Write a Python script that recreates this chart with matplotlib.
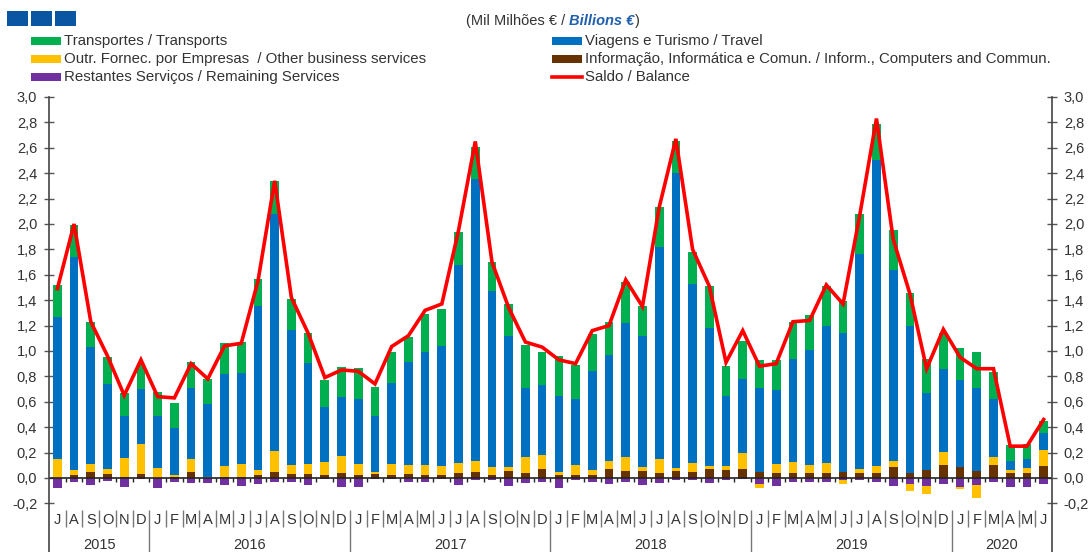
import numpy as np
import matplotlib
matplotlib.use('Agg')
import matplotlib.pyplot as plt
from matplotlib.patches import Rectangle
from matplotlib.lines import Line2D

matplotlib.rcParams.update({
    'font.family': ['Liberation Sans', 'DejaVu Sans'],
    'font.size': 10,
    'text.color': '#333333',
    'xtick.color': '#333333',
    'ytick.color': '#333333',
    'figure.facecolor': 'white',
})

month_labels = list('JASOND') + list('JFMAMJJASOND') * 4 + list('JFMAMJ')
years = ['2015', '2016', '2017', '2018', '2019', '2020']
year_months = [6, 12, 12, 12, 12, 6]

info = [0.0, .02, .045, .03, .01, .03,
        0, .01, .045, 0, .01, .005, .02, .045, .03, .03, .02, .035,
        .02, .03, .02, .03, .02, .02, .035, .045, .02, .055, .04, .07,
        .025, .02, .025, .07, .055, .055, .035, .055, .045, .07, .06, .07,
        .045, .035, .04, .04, .04, .045, .035, .035, .085, .035, .06, .10,
        .087, .055, .10, .04, .04, .09]
other = [.145, .04, .065, .04, .145, .235,
         .075, .01, .10, .005, .085, .105, .04, .17, .07, .08, .105, .135,
         .09, .015, .09, .07, .08, .07, .085, .09, .065, .03, .125, .11,
         .02, .08, .035, .065, .11, .03, .11, .025, .075, .02, .03, .13,
         -.03, .075, .085, .06, .08, -.025, .035, .055, .045, -.055, -.065, .105,
         -.02, -.10, .065, .02, .035, .13]
travel = [1.125, 1.68, .92, .67, .335, .435,
          .415, .37, .56, .575, .72, .72, 1.295, 1.865, 1.065, .795, .43, .47,
          .51, .445, .635, .81, .89, .95, 1.56, 2.22, 1.385, 1.035, .545, .55,
          .60, .52, .78, .835, 1.055, 1.035, 1.675, 2.325, 1.41, 1.09, .555, .58,
          .66, .58, .81, .905, 1.08, 1.095, 1.695, 2.41, 1.51, 1.165, .61, .65,
          .683, .65, .455, .075, .075, .13]
transport = [.25, .25, .20, .21, .18, .20,
             .185, .20, .205, .20, .25, .24, .215, .26, .245, .235, .215, .235,
             .245, .225, .25, .20, .30, .29, .26, .255, .23, .25, .34, .26,
             .315, .27, .29, .26, .32, .23, .31, .245, .25, .33, .235, .30,
             .225, .24, .29, .275, .31, .25, .315, .285, .31, .26, .265, .285,
             .25, .285, .215, .125, .12, .10]
remaining = [-.08, -.03, -.055, -.025, -.075, -.005,
             -.08, -.03, -.04, -.04, -.055, -.06, -.045, -.03, -.03, -.055, -.01, -.075,
             -.075, -.005, -.005, -.03, -.03, -.005, -.055, -.015, -.02, -.065, -.04, -.035,
             -.08, -.02, -.03, -.05, -.035, -.055, -.04, -.02, -.015, -.04, -.02, -.01,
             -.05, -.06, -.03, -.035, -.03, -.02, -.02, -.035, -.065, -.05, -.06, -.05,
             -.07, -.055, -.035, -.075, -.075, -.05]
balance = [1.49, 2.00, 1.23, .96, .65, .93,
           .64, .63, .90, .78, 1.04, 1.06, 1.55, 2.34, 1.42, 1.14, .79, .85,
           .84, .74, 1.035, 1.12, 1.32, 1.37, 1.95, 2.65, 1.70, 1.34, 1.07, 1.03,
           .93, .90, 1.16, 1.20, 1.56, 1.35, 2.13, 2.67, 1.80, 1.51, .91, 1.16,
           .88, .90, 1.23, 1.24, 1.52, 1.37, 2.07, 2.83, 1.88, 1.45, .86, 1.17,
           .95, .86, .86, .25, .25, .46]

GREEN, BLUE, YELLOW, BROWN, PURPLE, RED = '#00B050', '#0070C0', '#FFC000', '#663300', '#7030A0', '#FF0000'

W, H = 1092, 552
fig = plt.figure(figsize=(W / 100, H / 100), dpi=100)
ax = fig.add_axes([49 / W, (H - 503.3) / H, 1003 / W, 406.3 / H])

x = np.arange(len(month_labels))
pos = np.zeros(len(x))
neg = np.zeros(len(x))
# stacking order: brown, purple, yellow, blue, green
for vals, col in [(info, BROWN), (remaining, PURPLE), (other, YELLOW), (travel, BLUE), (transport, GREEN)]:
    v = np.array(vals)
    bottom = np.where(v >= 0, pos, neg)
    ax.bar(x, v, width=0.52, bottom=bottom, color=col, edgecolor='none', zorder=2)
    pos = pos + np.clip(v, 0, None)
    neg = neg + np.clip(v, None, 0)

ax.plot(x, balance, color=RED, lw=2.6, zorder=3, solid_joinstyle='miter')

ax.set_xlim(-0.5, len(x) - 0.5)
ax.set_ylim(-0.2, 3.0)
ticks = np.arange(-0.2, 3.01, 0.2)
ax.set_yticks(ticks)
ax.set_yticklabels([f'{t:.1f}'.replace('.', ',') for t in ticks])
ax.tick_params(axis='y', direction='inout', length=7, width=1, color='#555555',
               left=True, right=True, labelleft=True, labelright=True, pad=5, labelsize=10.5)
ax.set_xticks([])
for s in ax.spines.values():
    s.set_visible(False)

# zero line with small ticks between months
ax.axhline(0, color='#222222', lw=1.2, zorder=4)
ax.vlines(x[:-1] + 0.5, -0.03, 0, color='#222222', lw=1, zorder=4)

# category axis below the plot
upp = 406.3 / 3.2  # pixels per unit
def ypx(p):
    return -0.2 - (p - 503.3) / upp

sep = [k + 0.5 for k in x[:-1]]
year_edges = np.cumsum(year_months)[:-1] - 0.5
ax.vlines([s for s in sep if s not in year_edges], ypx(510), ypx(527), color='#777777', lw=1, clip_on=False)
ax.vlines(year_edges, ypx(510), ypx(H), color='#777777', lw=1, clip_on=False)
for i, m in enumerate(month_labels):
    ax.text(i, ypx(520), m, ha='center', va='center', fontsize=10.5, color='#333333', clip_on=False)
start = 0
for yr, n in zip(years, year_months):
    ax.text(start + (n - 1) / 2, ypx(545), yr, ha='center', va='center', fontsize=10.5, color='#333333', clip_on=False)
    start += n

# left and right axis lines running down to the bottom edge
for px in (49, 1052):
    fig.add_artist(Line2D([px / W, px / W], [(H - 97) / H, 0], color='#444444', lw=1.2))

# logo squares
for x0 in (7, 31, 55):
    fig.add_artist(Rectangle((x0 / W, (H - 26) / H), 21 / W, 15 / H, facecolor='#0B56A2',
                             edgecolor='none', lw=0, transform=fig.transFigure))

# title, pieces placed one after another
ty = (H - 21) / H
t1 = fig.text(466 / W, ty, '(Mil Milhões € / ', ha='left', va='center', fontsize=10.5, color='#333333')
fig.canvas.draw()
r = fig.canvas.get_renderer()
x1 = t1.get_window_extent(r).x1
t2 = fig.text(x1 / W, ty, 'Billions €', ha='left', va='center', fontsize=10.5,
              color='#1F5FAD', fontweight='bold', fontstyle='italic')
x2 = t2.get_window_extent(r).x1
fig.text(x2 / W, ty, ')', ha='left', va='center', fontsize=10.5, color='#333333')

# legend
entries = [
    (31, 41, GREEN, 'Transportes / Transports', 'bar'),
    (31, 59, YELLOW, 'Outr. Fornec. por Empresas  / Other business services', 'bar'),
    (31, 77, PURPLE, 'Restantes Serviços / Remaining Services', 'bar'),
    (552, 41, BLUE, 'Viagens e Turismo / Travel', 'bar'),
    (552, 59, BROWN, 'Informação, Informática e Comun. / Inform., Computers and Commun.', 'bar'),
    (552, 77, RED, 'Saldo / Balance', 'line'),
]
for lx, ly, col, label, kind in entries:
    if kind == 'bar':
        fig.add_artist(Rectangle((lx / W, (H - ly - 4) / H), 30 / W, 8 / H, facecolor=col,
                                 edgecolor='none', lw=0, transform=fig.transFigure))
    else:
        fig.add_artist(Line2D([lx / W, (lx + 30) / W], [(H - ly) / H] * 2, color=col, lw=2.6))
    fig.text((lx + 33) / W, (H - ly) / H, label, ha='left', va='center', fontsize=10.8, color='#333333')

fig.savefig('out.png', dpi=100)
